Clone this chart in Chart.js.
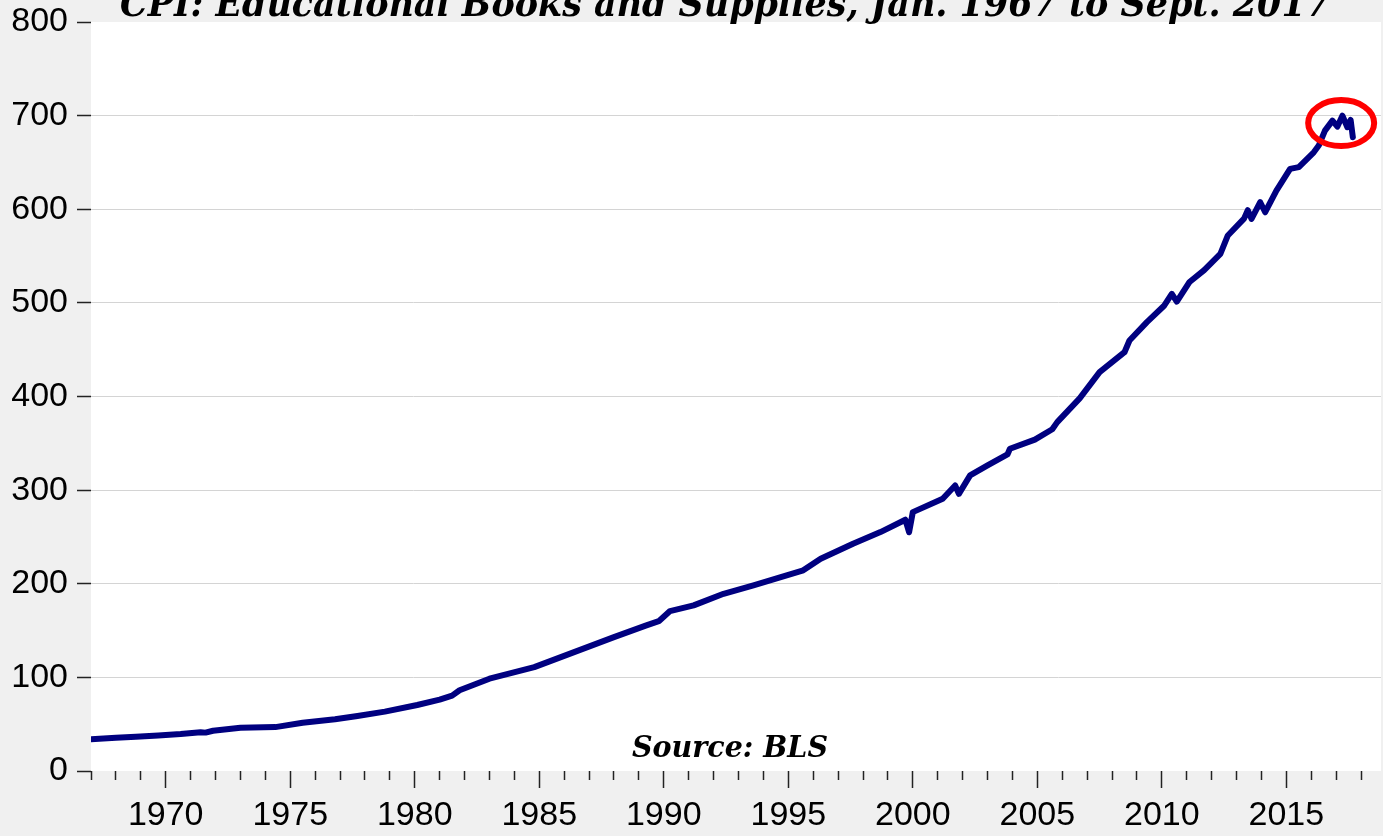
<!DOCTYPE html>
<html>
<head>
<meta charset="utf-8">
<script src="https://cdn.jsdelivr.net/npm/chart.js@4.4.1/dist/chart.umd.min.js"></script>
<style>
  html, body { margin: 0; padding: 0; background: #f0f0f0; }
  #wrap { width: 1383px; height: 836px; position: relative; }
  canvas { display: block; }
</style>
</head>
<body>
<div id="wrap"><canvas id="c" width="1383" height="836"></canvas></div>
<script>
// ---- Data (decimal year, index value) ----
const titleText = "CPI: Educational Books and Supplies, Jan. 1967 to Sept. 2017";
const sourceText = "Source: BLS";

const dates = [
  1967.0, 1968.0, 1968.8, 1969.7, 1970.6, 1971.4, 1971.6, 1971.9, 1973.0, 1974.4,
  1975.5, 1976.8, 1977.7, 1978.8, 1980.1, 1981.0, 1981.5, 1981.8, 1983.0, 1984.8,
  1986.4, 1988.0, 1989.3, 1989.8, 1990.25, 1991.2, 1992.4, 1993.6, 1994.7, 1995.6,
  1996.3, 1997.6, 1998.7, 1999.7, 1999.85, 2000.0, 2001.2, 2001.7, 2001.85, 2002.3,
  2003.0, 2003.8, 2003.9, 2004.9, 2005.6, 2005.8, 2006.7, 2007.5, 2008.5, 2008.7,
  2009.4, 2010.1, 2010.4, 2010.6, 2011.1, 2011.7, 2012.35, 2012.65, 2013.3, 2013.45,
  2013.6, 2013.95, 2014.15, 2014.6, 2015.15, 2015.5, 2016.1, 2016.3, 2016.55, 2016.85,
  2017.05, 2017.25, 2017.45, 2017.58, 2017.67
];
const values = [
  34, 35.5, 36.7, 38, 39.5, 41.5, 41, 43, 46.3, 46.9,
  51.6, 55.2, 58.8, 63.4, 70.5, 76.2, 80.5, 86.2, 98.6, 111,
  127, 143, 155.5, 160, 170.8, 176.9, 189.3, 198.3, 207.1, 214.3,
  226.7, 242.8, 255.2, 268.4, 255, 276.5, 290.8, 305, 296, 315.7,
  326.4, 338.1, 344.2, 354, 365, 372.6, 398, 426, 447.3, 459.8,
  479.4, 497.2, 509.6, 501.4, 522, 535, 552.4, 572, 590, 599,
  589.7, 607.5, 596.8, 620, 643.1, 645, 660.8, 668, 684, 694.7,
  688.3, 700, 687.6, 695.4, 676.8
];

// Y ticks and X range
const yTicks = [0, 100, 200, 300, 400, 500, 600, 700, 800];
const xLabelYears = [1970, 1975, 1980, 1985, 1990, 1995, 2000, 2005, 2010, 2015];
const xMin = 1967, xMax = 2018.8;

// highlighted region (red ellipse) in data units
const highlightCenter = [2017.2, 692];

const points = dates.map((d, i) => ({ x: d, y: values[i] }));

const bgPlugin = {
  id: 'bg',
  beforeDraw(chart) {
    const { ctx, chartArea } = chart;
    ctx.save();
    ctx.fillStyle = '#f0f0f0';
    ctx.fillRect(0, 0, chart.width, chart.height);
    ctx.fillStyle = '#ffffff';
    ctx.fillRect(chartArea.left, chartArea.top, chartArea.right - chartArea.left, chartArea.bottom - chartArea.top);
    ctx.restore();
  }
};

// draw text at a given font size, squeezed horizontally to a target width
function drawFitted(ctx, text, family, size, targetWidth, cx, baseline) {
  ctx.font = 'italic bold ' + size + 'px ' + family;
  const w = ctx.measureText(text).width;
  const sx = targetWidth / w;
  ctx.save();
  ctx.translate(cx, baseline);
  ctx.scale(sx, 1);
  ctx.textAlign = 'center';
  ctx.textBaseline = 'alphabetic';
  ctx.fillStyle = '#000000';
  ctx.fillText(text, 0, 0);
  ctx.restore();
}

const serifFam = '"DejaVu Serif", "Liberation Serif", serif';

const textPlugin = {
  id: 'texts',
  afterDatasetsDraw(chart) {
    const { ctx, scales } = chart;
    ctx.save();
    // red ellipse
    const cx = scales.x.getPixelForValue(highlightCenter[0]);
    const cy = scales.y.getPixelForValue(highlightCenter[1]);
    ctx.beginPath();
    ctx.ellipse(cx, cy, 33, 23, 0, 0, Math.PI * 2);
    ctx.strokeStyle = '#ff0000';
    ctx.lineWidth = 6;
    ctx.stroke();
    ctx.restore();
    // source label
    drawFitted(ctx, sourceText, serifFam, 29, 196, 730, 757);
  },
  afterDraw(chart) {
    drawFitted(chart.ctx, titleText, serifFam, 37, 1210, 725, 16);
  }
};

new Chart(document.getElementById('c'), {
  type: 'line',
  data: {
    datasets: [{
      data: points,
      borderColor: '#000080',
      borderWidth: 6,
      pointRadius: 0,
      tension: 0,
      borderJoinStyle: 'round',
      borderCapStyle: 'round',
      fill: false
    }]
  },
  options: {
    responsive: false,
    animation: false,
    devicePixelRatio: 1,
    layout: { padding: { left: 0, right: 2, top: 22, bottom: 0 }, autoPadding: false },
    plugins: { legend: { display: false }, title: { display: false }, tooltip: { enabled: false } },
    scales: {
      x: {
        type: 'linear',
        min: xMin,
        max: xMax,
        border: { display: false },
        afterFit(scale) {
          scale.height = 65;
          scale.paddingLeft = 0; scale.paddingRight = 0;
          scale.paddingTop = 0; scale.paddingBottom = 0;
        },
        afterBuildTicks(scale) {
          const t = [];
          for (let y = xMin; y <= Math.floor(xMax); y++) t.push({ value: y });
          scale.ticks = t;
        },
        grid: {
          drawOnChartArea: false,
          drawTicks: true,
          tickLength: 17,
          tickColor: '#222222',
          tickWidth: 1.5,
          tickBorderDash: (ctx) => (ctx.tick && xLabelYears.includes(ctx.tick.value)) ? [] : [9, 40]
        },
        ticks: {
          autoSkip: false,
          maxRotation: 0,
          includeBounds: false,
          padding: 7,
          color: '#000000',
          font: { family: '"Liberation Sans", Arial, sans-serif', size: 34 },
          callback: (v) => xLabelYears.includes(v) ? String(v) : ''
        }
      },
      y: {
        min: 0,
        max: 800,
        border: { display: false },
        afterFit(scale) {
          scale.width = 91;
          scale.paddingTop = 0; scale.paddingBottom = 0;
          scale.paddingLeft = 0; scale.paddingRight = 0;
        },
        afterBuildTicks(scale) { scale.ticks = yTicks.map(v => ({ value: v })); },
        grid: {
          color: (ctx) => (ctx.tick && (ctx.tick.value === 0 || ctx.tick.value === 800)) ? 'rgba(0,0,0,0)' : '#d4d4d4',
          lineWidth: 1,
          tickLength: 14,
          tickColor: '#222222',
          tickWidth: 1.5
        },
        ticks: {
          padding: 9,
          color: '#000000',
          font: { family: '"Liberation Sans", Arial, sans-serif', size: 34 }
        }
      }
    }
  },
  plugins: [bgPlugin, textPlugin]
});
</script>
</body>
</html>
